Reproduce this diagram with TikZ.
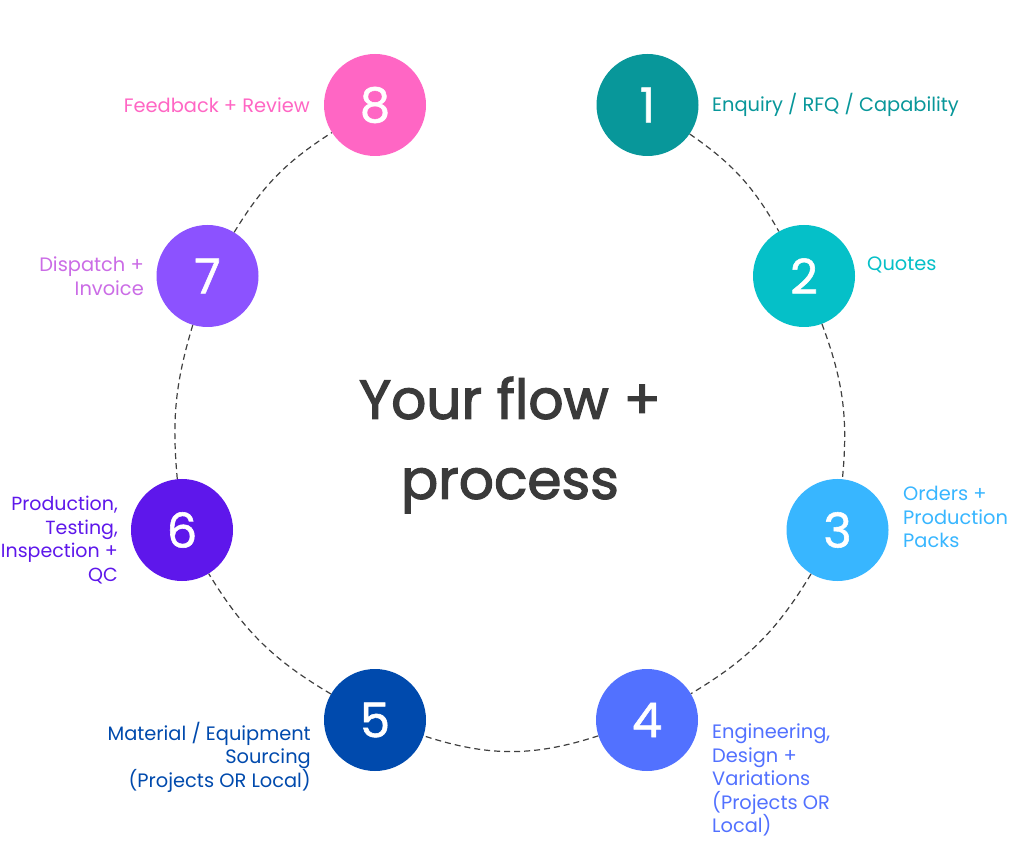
\documentclass[tikz,border=0pt]{standalone}
\usepackage{fontspec}
\setmainfont{Poppins}
\newfontfamily\titlefont{Poppins}[FakeBold=2.2]
\newfontfamily\digitfont{Poppins}[FakeBold=1.2]
\begin{document}
\begin{tikzpicture}[x=1pt,y=1pt,
  stepcircle/.style={circle,minimum size=102pt,inner sep=0pt,text=white,
    font=\digitfont\fontsize{48}{48}\selectfont},
  steplabel/.style={inner sep=0pt,font=\fontsize{19.4}{23.5}\selectfont},
  flow/.style={draw=black!75,line width=1.2pt,dash pattern=on 6pt off 4pt}]
\definecolor{c1}{HTML}{08979A}
\definecolor{c2}{HTML}{05C0C8}
\definecolor{c3}{HTML}{38B6FF}
\definecolor{c4}{HTML}{5271FF}
\definecolor{c5}{HTML}{004AAD}
\definecolor{c6}{HTML}{5E17EB}
\definecolor{c7}{HTML}{8C52FF}
\definecolor{c7t}{HTML}{CB6CE6}
\definecolor{c8}{HTML}{FF66C4}
\definecolor{titlegray}{HTML}{3A3A3A}
\useasboundingbox (0,0) rectangle (1024,849);
\fill[white] (0,0) rectangle (1024,849);

\node[stepcircle,fill=c1] (n1) at (647.5,744) {1};
\node[stepcircle,fill=c2] (n2) at (804,573) {2};
\node[stepcircle,fill=c3] (n3) at (837.5,319) {3};
\node[stepcircle,fill=c4] (n4) at (647,129) {4};
\node[stepcircle,fill=c5] (n5) at (375,129) {5};
\node[stepcircle,fill=c6] (n6) at (182,319) {6};
\node[stepcircle,fill=c7] (n7) at (207.5,573) {7};
\node[stepcircle,fill=c8] (n8) at (375,744) {8};

\draw[flow] (n1) to[bend left=13] (n2);
\draw[flow] (n2) to[bend left=13] (n3);
\draw[flow] (n3) to[bend left=14] (n4);
\draw[flow] (n4) to[bend left=18] (n5);
\draw[flow] (n5) to[bend left=14] (n6);
\draw[flow] (n6) to[bend left=11] (n7);
\draw[flow] (n7) to[bend left=13] (n8);

\node[steplabel,text=c1,anchor=west] (l1) at (712,744) {Enquiry / RFQ / Capability};
\node[steplabel,text=c2,anchor=west] (l2) at (867,584) {Quotes};
\node[steplabel,text=c3,anchor=west,align=left] (l3) at (903,332) {Orders +\\Production\\Packs};
\node[steplabel,text=c4,anchor=west,align=left] (l4) at (712,69) {Engineering,\\Design +\\Variations\\(Projects OR\\Local)};
\node[steplabel,text=c5,anchor=east,align=right] (l5) at (311,92) {Material / Equipment\\Sourcing\\(Projects OR Local)};
\node[steplabel,text=c6,anchor=east,align=right,font=\fontsize{19}{23.5}\selectfont] (l6) at (118,309) {Production,\\Testing,\\Inspection +\\QC};
\node[steplabel,text=c7t,anchor=east,align=right] (l7) at (144,573) {Dispatch +\\Invoice};
\node[steplabel,text=c8,anchor=east] (l8) at (310,744) {Feedback + Review};

\node[align=center,text=titlegray,inner sep=0pt,font=\titlefont\fontsize{55}{80}\selectfont] (title) at (510,404) {Your flow +\\process};
\end{tikzpicture}
\end{document}
